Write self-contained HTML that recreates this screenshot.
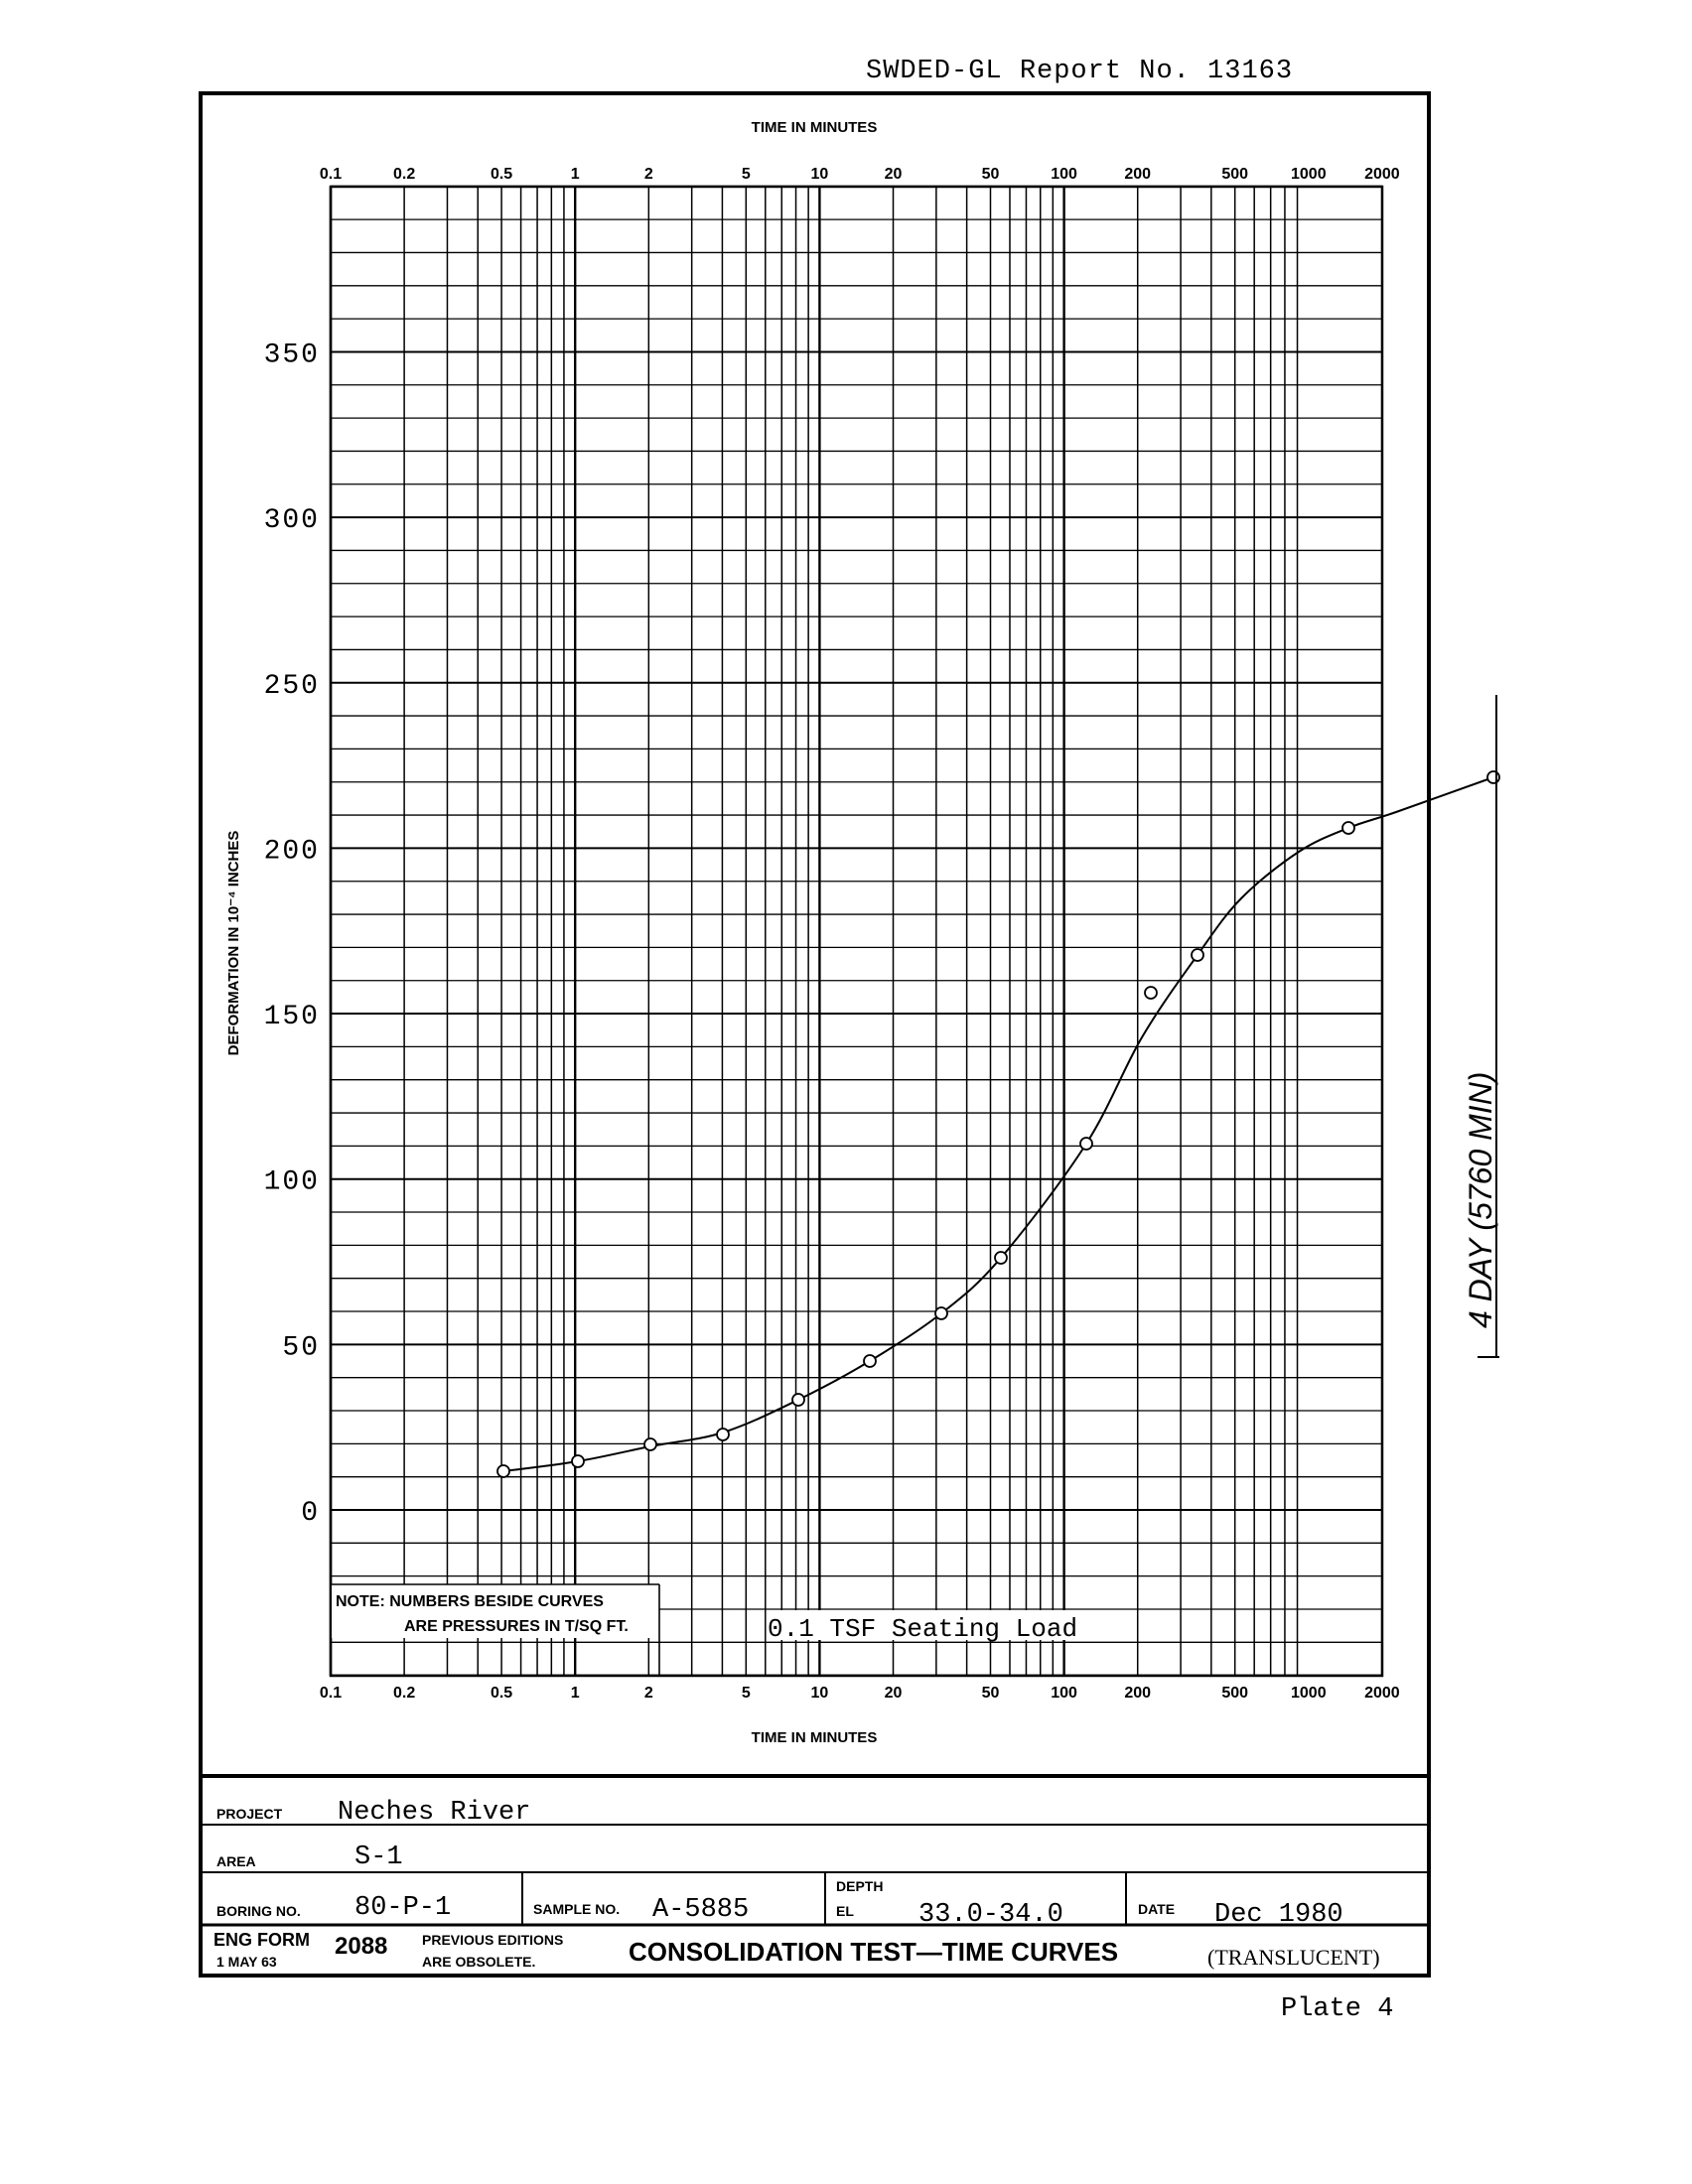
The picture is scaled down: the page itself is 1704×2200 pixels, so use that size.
<!DOCTYPE html>
<html><head><meta charset="utf-8"><style>
html,body{margin:0;padding:0;background:#fff}
svg{display:block}
.s{font-family:"Liberation Sans",sans-serif;font-weight:bold}
.m{font-family:"Liberation Mono",monospace}
</style></head><body>
<svg id="c" width="1704" height="2200" viewBox="0 0 1704 2200" xmlns="http://www.w3.org/2000/svg">
<rect x="0" y="0" width="1704" height="2200" fill="#fff"/>
<text x="872" y="78" class="m" font-size="27" letter-spacing="1">SWDED-GL Report No. 13163</text>
<rect x="202" y="94" width="1237" height="1896" fill="none" stroke="#000" stroke-width="4"/>
<g id="grid" stroke="#000" stroke-width="1.6"></g>
<rect x="333" y="188" width="1059" height="1500" fill="none" stroke="#000" stroke-width="2.5"/>
<text x="820" y="133" class="s" font-size="15" text-anchor="middle">TIME IN MINUTES</text>
<text x="820" y="1755" class="s" font-size="15" text-anchor="middle">TIME IN MINUTES</text>
<g id="xl" class="s" font-size="16" text-anchor="middle"></g>
<g id="yl" class="m" font-size="28" text-anchor="end" letter-spacing="2"></g>
<text transform="translate(240,950) rotate(-90)" class="s" font-size="15" text-anchor="middle">DEFORMATION IN 10⁻⁴ INCHES</text>
<rect x="334" y="1596" width="330" height="54" fill="#fff"/>
<line x1="664" y1="1596" x2="664" y2="1688" stroke="#000" stroke-width="1.6"/>
<line x1="333" y1="1596" x2="664" y2="1596" stroke="#000" stroke-width="1.6"/>
<text x="338" y="1618" class="s" font-size="16">NOTE:  NUMBERS BESIDE CURVES</text>
<text x="407" y="1643" class="s" font-size="16">ARE PRESSURES IN T/SQ FT.</text>
<rect x="774" y="1622" width="336" height="30" fill="#fff"/>
<text x="773" y="1648" class="m" font-size="26">0.1 TSF Seating Load</text>
<path id="curve" fill="none" stroke="#000" stroke-width="2"/>
<g id="pts" fill="#fff" stroke="#000" stroke-width="1.8"></g>
<line x1="1507" y1="700" x2="1507" y2="1367" stroke="#000" stroke-width="2"/>
<line x1="1488" y1="1367" x2="1510" y2="1367" stroke="#000" stroke-width="2"/>
<text transform="translate(1502,1338) rotate(-90)" font-family="Liberation Sans,sans-serif" font-style="italic" font-size="32">4 DAY (5760 MIN)</text>
<!-- table -->
<g stroke="#000">
<line x1="202" y1="1789" x2="1439" y2="1789" stroke-width="4"/>
<line x1="202" y1="1838" x2="1439" y2="1838" stroke-width="2"/>
<line x1="202" y1="1886" x2="1439" y2="1886" stroke-width="2"/>
<line x1="202" y1="1939" x2="1439" y2="1939" stroke-width="3"/>
<line x1="526" y1="1886" x2="526" y2="1939" stroke-width="2"/>
<line x1="831" y1="1886" x2="831" y2="1939" stroke-width="2"/>
<line x1="1134" y1="1886" x2="1134" y2="1939" stroke-width="2"/>
</g>
<g class="s" font-size="14">
<text x="218" y="1832">PROJECT</text>
<text x="218" y="1880">AREA</text>
<text x="218" y="1930">BORING NO.</text>
<text x="537" y="1928">SAMPLE NO.</text>
<text x="842" y="1905">DEPTH</text>
<text x="842" y="1930">EL</text>
<text x="1146" y="1928">DATE</text>
<text x="215" y="1960" font-size="18">ENG FORM</text>
<text x="218" y="1981">1 MAY 63</text>
<text x="337" y="1968" font-size="24">2088</text>
<text x="425" y="1959">PREVIOUS EDITIONS</text>
<text x="425" y="1981">ARE OBSOLETE.</text>
<text x="633" y="1975" font-size="26">CONSOLIDATION TEST—TIME CURVES</text>
</g>
<text x="1216" y="1979" font-family="Liberation Serif,serif" font-size="22">(TRANSLUCENT)</text>
<g class="m" font-size="27">
<text x="340" y="1832">Neches River</text>
<text x="357" y="1877">S-1</text>
<text x="357" y="1928">80-P-1</text>
<text x="657" y="1930">A-5885</text>
<text x="925" y="1935">33.0-34.0</text>
<text x="1223" y="1935">Dec 1980</text>
<text x="1290" y="2030">Plate 4</text>
</g>
</svg>
<script>
var NS="http://www.w3.org/2000/svg";
function X(t){return 333+246.2*(Math.log10(t)+1);}
function Y(v){return 1521-3.333*v;}
function el(p,n,a,txt){var e=document.createElementNS(NS,n);for(var k in a)e.setAttribute(k,a[k]);if(txt!==undefined)e.textContent=txt;document.getElementById(p).appendChild(e);}
for(var d=0.1;d<1000;d*=10){for(var m=1;m<10;m++){var t=d*m;if(t>2001)break;var x=X(t);el("grid","line",{x1:x,y1:188,x2:x,y2:1688,"stroke-width":m==1?2.4:1.5});}}
el("grid","line",{x1:X(2000),y1:188,x2:X(2000),y2:1688,"stroke-width":2});
for(var v=-50;v<=400;v+=10){var y=Y(v);el("grid","line",{x1:333,y1:y,x2:1392,y2:y,"stroke-width":(v%50==0)?2:1.3});}
var xl=[0.1,0.2,0.5,1,2,5,10,20,50,100,200,500,1000,2000];
xl.forEach(function(t){el("xl","text",{x:X(t),y:180},String(t));el("xl","text",{x:X(t),y:1710},String(t));});
[0,50,100,150,200,250,300,350].forEach(function(v){el("yl","text",{x:322,y:Y(v)+10},String(v));});
var P=[[507,1482],[582,1472],[655,1457],[728,1443],[804,1410],[876,1371],[948,1323],[1008,1267],[1094,1152],[1150,1045],[1206,962],[1250,905],[1308,858],[1358,834],[1406,818],[1504,783]];
var d="M"+P[0][0]+","+P[0][1];
for(var i=0;i<P.length-1;i++){var p0=P[Math.max(i-1,0)],p1=P[i],p2=P[i+1],p3=P[Math.min(i+2,P.length-1)];
d+=" C"+(p1[0]+(p2[0]-p0[0])/6)+","+(p1[1]+(p2[1]-p0[1])/6)+" "+(p2[0]-(p3[0]-p1[0])/6)+","+(p2[1]-(p3[1]-p1[1])/6)+" "+p2[0]+","+p2[1];}
document.getElementById("curve").setAttribute("d",d);
[[507,1482],[582,1472],[655,1455],[728,1445],[804,1410],[876,1371],[948,1323],[1008,1267],[1094,1152],[1159,1000],[1206,962],[1358,834],[1504,783]].forEach(function(p){el("pts","circle",{cx:p[0],cy:p[1],r:6});});
</script>
</body></html>
